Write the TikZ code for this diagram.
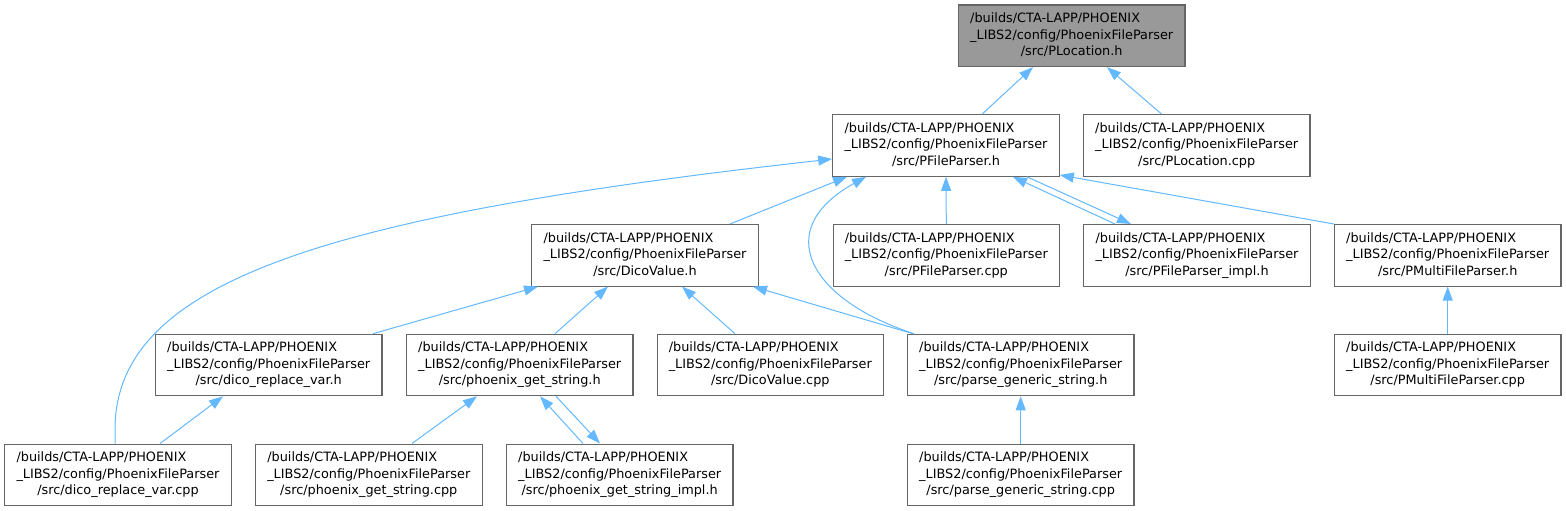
\documentclass[tikz,border=0pt]{standalone}
\usepackage{fontspec}
\setmainfont{DejaVu Sans}
\usetikzlibrary{arrows.meta}
\definecolor{edgeblue}{HTML}{63B8FF}
\definecolor{boxgrey}{HTML}{666666}
\definecolor{focusgrey}{HTML}{999999}
\newcommand{\flabel}[1]{\begin{tabular}{@{}l@{}}/builds/CTA-LAPP/PHOENIX\\\_LIBS2/config/PhoenixFileParser\\\multicolumn{1}{@{}c@{}}{/src/#1}\end{tabular}}
\begin{document}
\begin{tikzpicture}[x=1pt,y=-1pt,
  filebox/.style={draw=boxgrey, line width=1.1pt, fill=white, minimum width=226.5pt, minimum height=61.5pt, inner sep=0pt, font=\fontsize{12.85}{16.6}\selectfont},
  focus/.style={filebox, fill=focusgrey},
  edge/.style={draw=edgeblue, line width=1pt, -{Triangle[length=14pt,width=10pt]}}]
\useasboundingbox (0,0) rectangle (1566,511);
% row 0
\node[focus]   (plh)    at (1071.7,35.8)  {\flabel{PLocation.h}};
% row 1
\node[filebox] (pfh)    at (946,145.5)    {\flabel{PFileParser.h}};
\node[filebox] (plcpp)  at (1196.7,145.5) {\flabel{PLocation.cpp}};
% row 2
\node[filebox] (dvh)    at (645,255.3)    {\flabel{DicoValue.h}};
\node[filebox] (pfcpp)  at (946.3,255.3)  {\flabel{PFileParser.cpp}};
\node[filebox] (pfimpl) at (1197,255.3)   {\flabel{PFileParser\_impl.h}};
\node[filebox] (pmh)    at (1447.7,255.3) {\flabel{PMultiFileParser.h}};
% row 3
\node[filebox] (drh)    at (268.7,365)    {\flabel{dico\_replace\_var.h}};
\node[filebox] (pgsh)   at (519.7,365)    {\flabel{phoenix\_get\_string.h}};
\node[filebox] (dvcpp)  at (770.3,365)    {\flabel{DicoValue.cpp}};
\node[filebox] (pgh)    at (1020.7,365)   {\flabel{parse\_generic\_string.h}};
\node[filebox] (pmcpp)  at (1447.7,365)   {\flabel{PMultiFileParser.cpp}};
% row 4
\node[filebox] (drcpp)  at (118,474.8)    {\flabel{dico\_replace\_var.cpp}};
\node[filebox] (pgscpp) at (368.8,474.8)  {\flabel{phoenix\_get\_string.cpp}};
\node[filebox] (pgsimpl) at (619.7,474.8) {\flabel{phoenix\_get\_string\_impl.h}};
\node[filebox] (pgcpp)  at (1020.7,474.8) {\flabel{parse\_generic\_string.cpp}};
% edges
\draw[edge] (pfh.north -| 982,0) -- (plh.south -| 1033,0);
\draw[edge] (plcpp.north -| 1161.7,0) -- (plh.south -| 1107,0);
\draw[edge] (dvh.north -| 730,0) -- (pfh.south -| 847,0);
\draw[edge] (pfcpp.north) -- (pfh.south);
\draw[edge] (pfimpl.north -| 1115,0) -- (pfh.south -| 1013,0);
\draw[edge] (pfh.south -| 1027,0) -- (pfimpl.north -| 1131,0);
\draw[edge] (pmh.north west) -- (pfh.east |- 0,175);
\draw[edge] (drcpp.north -| 115,0) -- ++(0,-14) .. controls (115,280) and (330,215) .. (pfh.west |- 0,159);
\draw[edge] (pgh.north -| 914,0) .. controls (810,300) and (770,230) .. (pfh.south -| 866,0);
\draw[edge] (drh.north -| 373,0) -- (dvh.south -| 538,0);
\draw[edge] (pgsh.north -| 555,0) -- (dvh.south -| 608,0);
\draw[edge] (dvcpp.north -| 735,0) -- (dvh.south -| 682,0);
\draw[edge] (pgh.north -| 913,0) -- (dvh.south -| 753,0);
\draw[edge] (pmcpp.north) -- (pmh.south);
\draw[edge] (drcpp.north -| 160,0) -- (drh.south -| 223,0);
\draw[edge] (pgscpp.north -| 412,0) -- (pgsh.south -| 477,0);
\draw[edge] (pgsimpl.north -| 583,0) -- (pgsh.south -| 540,0);
\draw[edge] (pgsh.south -| 556,0) -- (pgsimpl.north -| 600,0);
\draw[edge] (pgcpp.north) -- (pgh.south);
\end{tikzpicture}
\end{document}
